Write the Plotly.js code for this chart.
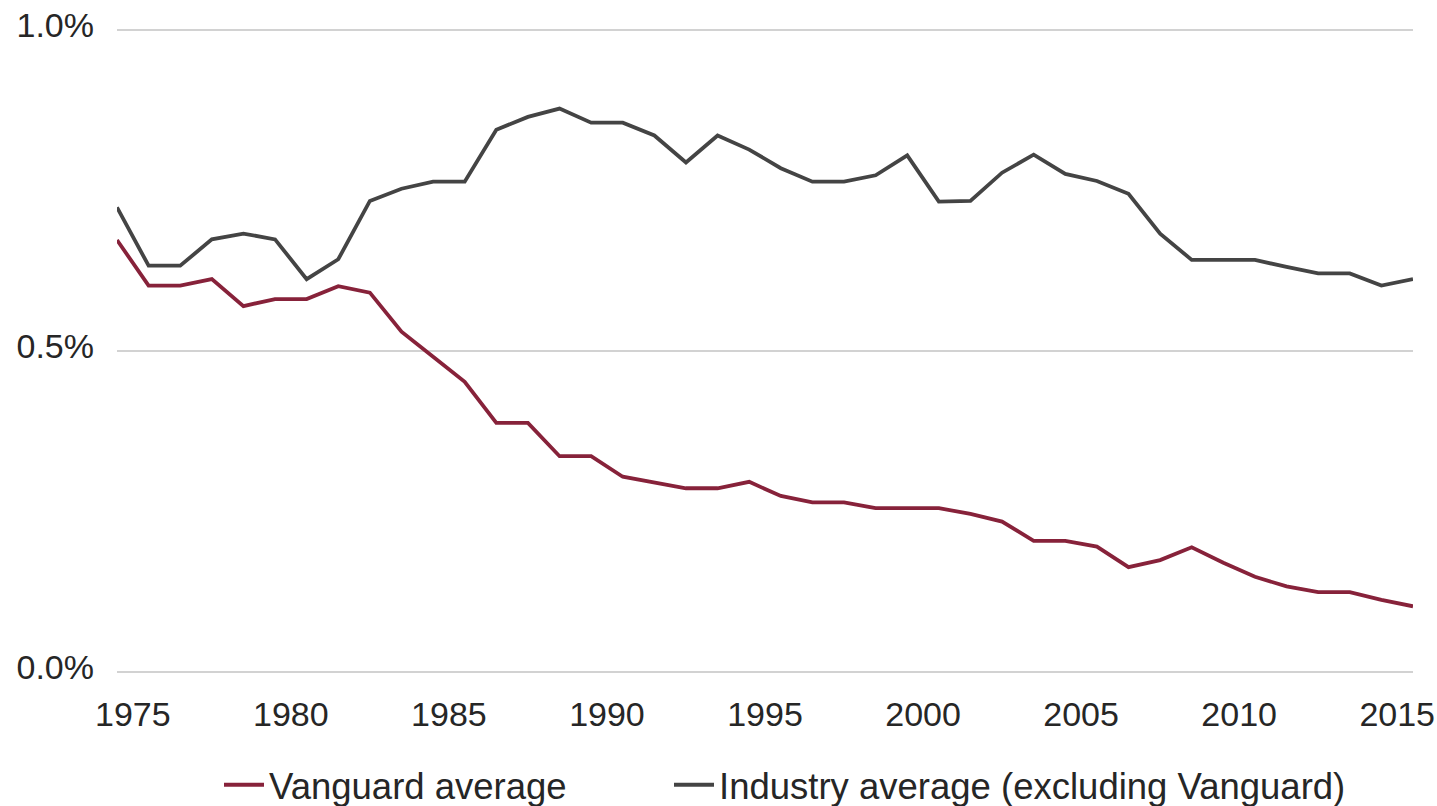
<!DOCTYPE html>
<html>
<head>
<meta charset="utf-8">
<script src="https://cdn.plot.ly/plotly-3.0.1.min.js"></script>
<style>
  html, body { margin: 0; padding: 0; background: #ffffff; }
  #chart { width: 1437px; height: 806px; }
</style>
</head>
<body>
<div id="chart"></div>
<script>
// Years of the data points
const years = [1975,1976,1977,1978,1979,1980,1981,1982,1983,1984,
               1985,1986,1987,1988,1989,1990,1991,1992,1993,1994,
               1995,1996,1997,1998,1999,2000,2001,2002,2003,2004,
               2005,2006,2007,2008,2009,2010,2011,2012,2013,2014,
               2015,2016];

// Vanguard average expense ratio (%)
const vanguard = [0.673,0.602,0.602,0.612,0.570,0.581,0.581,0.601,0.591,0.530,
                  0.491,0.452,0.388,0.388,0.336,0.336,0.304,0.295,0.286,0.286,
                  0.296,0.274,0.264,0.264,0.255,0.255,0.255,0.246,0.234,0.204,
                  0.204,0.195,0.163,0.174,0.194,0.170,0.148,0.133,0.124,0.124,
                  0.112,0.102];

// Industry average expense ratio excluding Vanguard (%)
const industry = [0.724,0.633,0.633,0.674,0.683,0.674,0.612,0.643,0.734,0.753,
                  0.764,0.764,0.845,0.865,0.878,0.856,0.856,0.836,0.794,0.836,
                  0.814,0.785,0.764,0.764,0.774,0.805,0.733,0.734,0.778,0.806,
                  0.776,0.765,0.745,0.683,0.642,0.642,0.642,0.631,0.621,0.621,
                  0.602,0.612];

// Axis tick labels
const xTickYears = [1975,1980,1985,1990,1995,2000,2005,2010,2015];
const xTickText = ['1975','1980','1985','1990','1995','2000','2005','2010','2015'];
const yTickVals = [0, 0.5, 1.0];
const yTickText = ['0.0%','0.5%','1.0%'];

const seriesNames = ['Vanguard average', 'Industry average (excluding Vanguard)'];

const FONT = 'Liberation Sans, Arial, Helvetica, sans-serif';
const TEXT = '#262626';

const traces = [
  {
    x: years, y: vanguard, type: 'scatter', mode: 'lines',
    name: seriesNames[0],
    line: { color: '#87223a', width: 3.8 },
    legend: 'legend',
    hoverinfo: 'skip'
  },
  {
    x: years, y: industry, type: 'scatter', mode: 'lines',
    name: seriesNames[1],
    line: { color: '#444444', width: 3.8 },
    legend: 'legend2',
    hoverinfo: 'skip'
  }
];

const legendCommon = {
  orientation: 'h',
  xref: 'container', yref: 'container',
  xanchor: 'left', yanchor: 'middle',
  y: 0.026,
  font: { family: FONT, size: 36.5, color: TEXT },
  itemwidth: 40,
  bgcolor: 'rgba(0,0,0,0)',
  itemclick: false, itemdoubleclick: false
};

const layout = {
  width: 1437, height: 806,
  margin: { l: 117, r: 24, t: 29, b: 133, pad: 0, autoexpand: false },
  paper_bgcolor: '#ffffff', plot_bgcolor: '#ffffff',
  font: { family: FONT, color: TEXT, size: 34 },
  showlegend: true,
  xaxis: {
    range: [1975, 2016],
    tickmode: 'array',
    tickvals: xTickYears.map(v => v + 0.5),
    ticktext: xTickText,
    showgrid: false, zeroline: false, showline: false,
    ticks: '',
    ticklabelstandoff: 18,
    tickfont: { family: FONT, size: 34, color: TEXT },
    fixedrange: true
  },
  yaxis: {
    range: [-0.002, 1.002],
    tickmode: 'array',
    tickvals: yTickVals,
    ticktext: yTickText,
    showgrid: true, gridcolor: '#d2d2d2', gridwidth: 1.6,
    zeroline: false, showline: false,
    ticks: '',
    ticklabelstandoff: 22,
    ticklabelshift: -5,
    tickfont: { family: FONT, size: 34, color: TEXT },
    fixedrange: true
  },
  legend: Object.assign({}, legendCommon, { x: 219 / 1437 }),
  legend2: Object.assign({}, legendCommon, { x: 669 / 1437 })
};

Plotly.newPlot('chart', traces, layout, { displayModeBar: false, staticPlot: true });
</script>
</body>
</html>
